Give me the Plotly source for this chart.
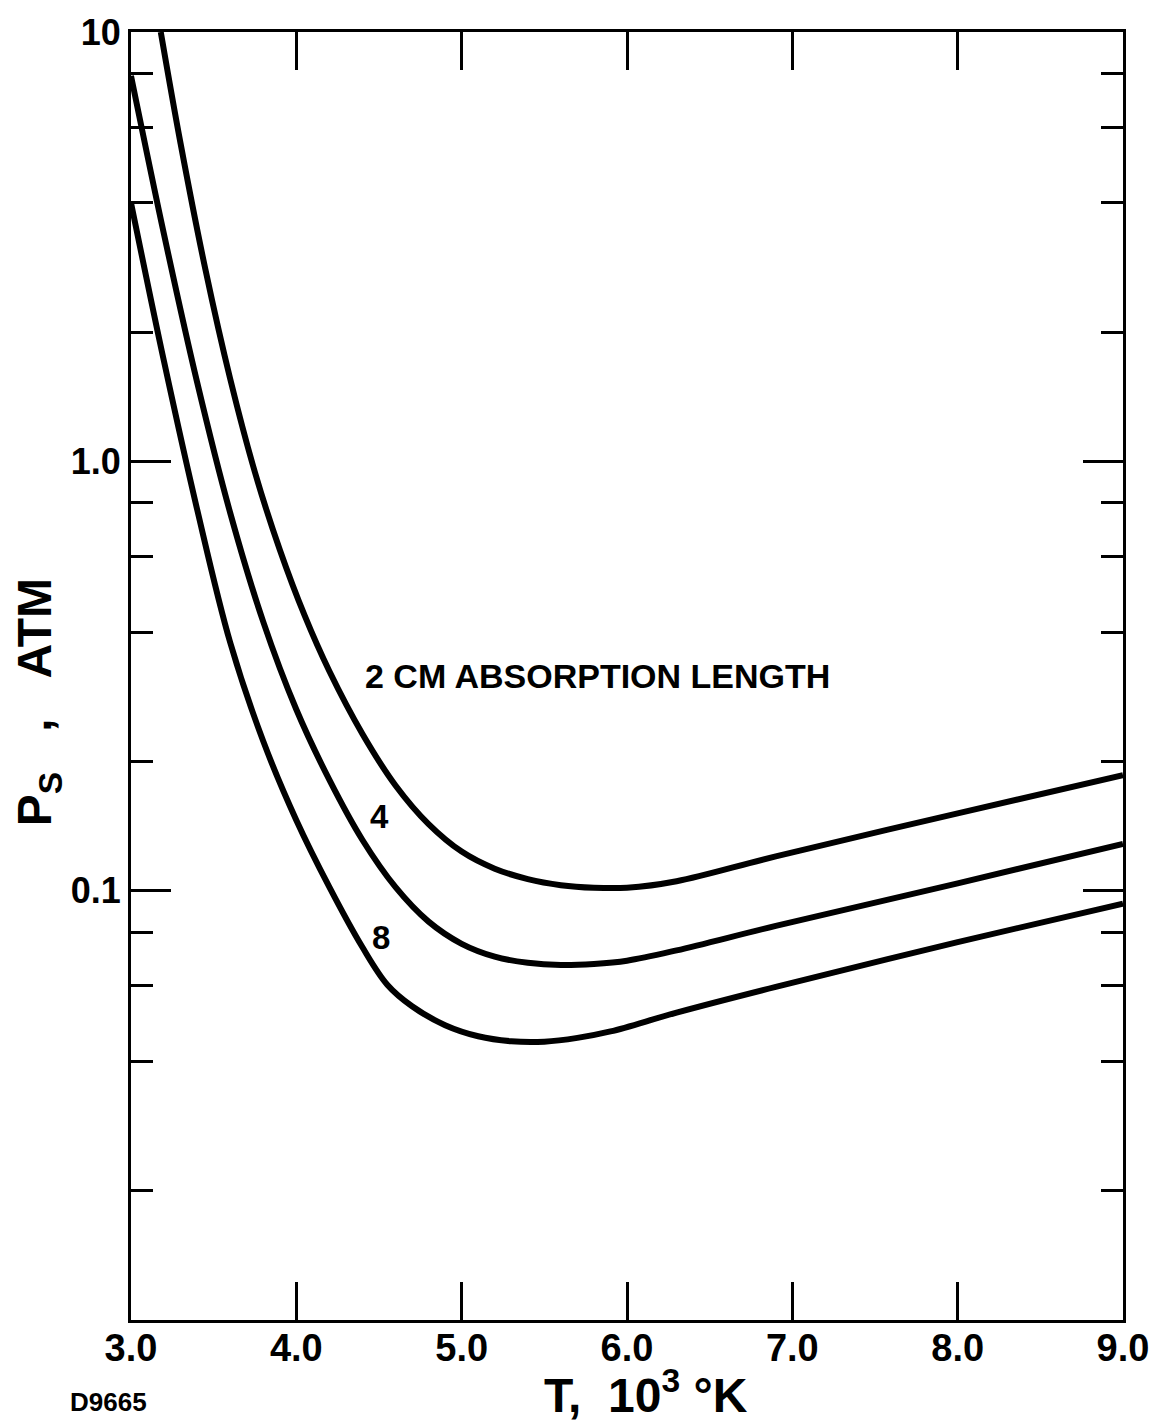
import plotly.graph_objects as go

# ---- data ----
T_2cm = [3.18, 3.30, 3.45, 3.60, 3.75, 3.90, 4.05, 4.20, 4.40, 4.60, 4.80, 5.00, 5.20, 5.40, 5.60, 5.80, 6.00, 6.30, 6.90, 8.00, 9.00]
P_2cm = [10.0, 5.495, 2.799, 1.556, 0.9419, 0.6223, 0.4375, 0.3243, 0.2317, 0.1758, 0.1429, 0.1233, 0.1125, 0.1064, 0.1030, 0.1016, 0.1016, 0.1052, 0.1202, 0.1514, 0.1858]

T_4cm = [3.00, 3.20, 3.40, 3.60, 3.80, 4.00, 4.20, 4.40, 4.60, 4.80, 5.00, 5.20, 5.40, 5.60, 5.80, 6.00, 6.30, 6.90, 8.00, 9.00]
P_4cm = [7.907, 3.373, 1.528, 0.7586, 0.4227, 0.2642, 0.1811, 0.1312, 0.1019, 0.0847, 0.0752, 0.0702, 0.0679, 0.0671, 0.0675, 0.0687, 0.0726, 0.0828, 0.1040, 0.1285]

T_8cm = [3.00, 3.20, 3.40, 3.60, 3.80, 4.00, 4.20, 4.40, 4.55, 4.70, 4.90, 5.10, 5.30, 5.50, 5.70, 5.90, 6.30, 6.90, 8.00, 9.00]
P_8cm = [4.00, 1.706, 0.7727, 0.3784, 0.2228, 0.1459, 0.1019, 0.0738, 0.0604, 0.0538, 0.0486, 0.0458, 0.0446, 0.0445, 0.0454, 0.0470, 0.0520, 0.0597, 0.0759, 0.0933]

x_tick_vals = [3, 4, 5, 6, 7, 8, 9]
x_tick_text = ["3.0", "4.0", "5.0", "6.0", "7.0", "8.0", "9.0"]
y_tick_vals = [0.1, 1.0, 10.0]
y_tick_text = ["0.1", "1.0", "10"]
y_minor_vals = [m * d for d in (0.01, 0.1, 1.0) for m in (2, 4, 6, 8)]

label_2 = "2 CM ABSORPTION LENGTH"
label_4 = "4"
label_8 = "8"
x_title = "T,\u00a0\u00a010<sup>3</sup>\u00a0°K"
y_title = "P<sub>S</sub>\u00a0\u00a0\u00a0,\u00a0\u00a0\u00a0ATM"
fig_code = "D9665"

FONT = "Liberation Sans"

fig = go.Figure()
for T, P in ((T_2cm, P_2cm), (T_4cm, P_4cm), (T_8cm, P_8cm)):
    fig.add_trace(go.Scatter(x=T, y=P, mode="lines",
                             line=dict(color="black", width=6, shape="spline", smoothing=1.0),
                             showlegend=False, hoverinfo="skip"))

fig.update_layout(
    width=1161, height=1421,
    margin=dict(l=131, r=29, t=27, b=101),
    paper_bgcolor="white", plot_bgcolor="white",
    font=dict(family=FONT, color="black"),
)
fig.update_xaxes(
    range=[3, 9], showgrid=False, zeroline=False,
    showline=True, linecolor="black", linewidth=3, mirror="ticks",
    ticks="inside", ticklen=38, tickwidth=3, tickcolor="black",
    tickvals=x_tick_vals, ticktext=x_tick_text,
    tickfont=dict(family=FONT, size=38, weight="bold"),
    ticklabelstandoff=-8,
)
fig.update_yaxes(
    type="log", range=[-2, 1], showgrid=False, zeroline=False,
    showline=True, linecolor="black", linewidth=3, mirror="ticks",
    ticks="inside", ticklen=40, tickwidth=3, tickcolor="black",
    tickvals=y_tick_vals, ticktext=y_tick_text,
    tickfont=dict(family=FONT, size=36, weight="bold"),
    minor=dict(tickvals=y_minor_vals, ticks="inside", ticklen=22, tickwidth=3, tickcolor="black", showgrid=False),
)

def px_to_T(px):
    return 3 + (px - 131) / (1001 / 6)

def py_to_logP(py):
    return 1 - (py - 27) / 431

fig.add_annotation(x=px_to_T(365), y=py_to_logP(673), text=label_2, showarrow=False,
                   xanchor="left", yanchor="middle", font=dict(size=34, weight="bold"))
fig.add_annotation(x=px_to_T(382), y=py_to_logP(815), text=label_4, showarrow=False,
                   xanchor="center", yanchor="middle", font=dict(size=33, weight="bold"))
fig.add_annotation(x=px_to_T(383), y=py_to_logP(936), text=label_8, showarrow=False,
                   xanchor="center", yanchor="middle", font=dict(size=33, weight="bold"))

fig.add_annotation(x=(651 - 131) / 1001, y=(1320 - 1392) / 1293, xref="paper", yref="paper",
                   text=x_title, showarrow=False, xanchor="center", yanchor="middle",
                   font=dict(size=48, weight="bold"))
fig.add_annotation(x=(38 - 131) / 1001, y=(1320 - 700) / 1293, xref="paper", yref="paper",
                   text=y_title, showarrow=False, textangle=-90, xanchor="center", yanchor="middle",
                   font=dict(size=48, weight="bold"))
fig.add_annotation(x=(108 - 131) / 1001, y=(1320 - 1402) / 1293, xref="paper", yref="paper",
                   text=fig_code, showarrow=False, xanchor="center", yanchor="middle",
                   font=dict(size=26, weight="bold"))

fig.write_html("out.html")
